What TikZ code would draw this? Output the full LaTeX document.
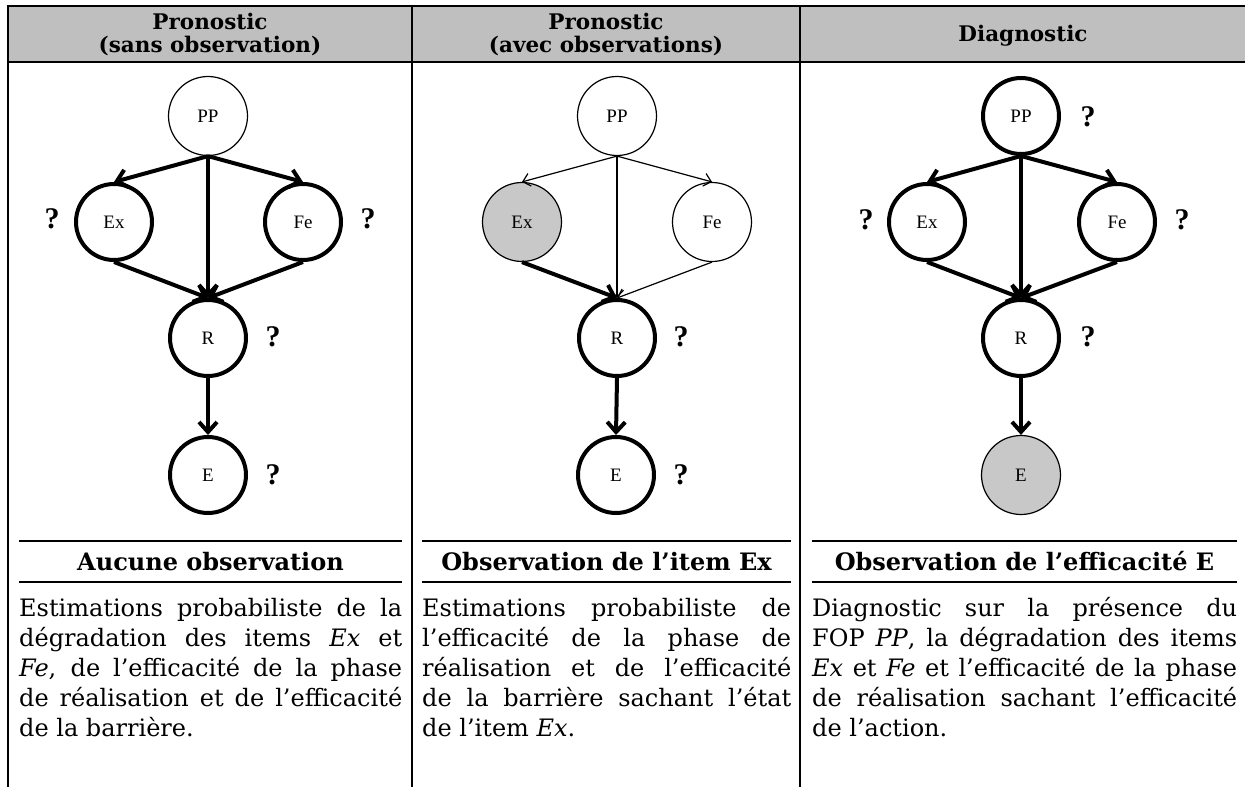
\documentclass[tikz,border=0pt]{standalone}
\usepackage{fontspec}
\setmainfont{DejaVu Serif}
\newfontfamily\timesfont{Liberation Serif}
\usetikzlibrary{arrows.meta}
\definecolor{hdrgray}{HTML}{BFBFBF}
\definecolor{obsgray}{HTML}{C8C8C8}
\tolerance=10000
\hyphenpenalty=10000
\begin{document}
\begin{tikzpicture}[x=1pt,y=-1pt,
  thinnode/.style={circle, draw, line width=1.2pt, minimum size=79pt, inner sep=0pt,
    font=\timesfont\fontsize{19}{19}\selectfont},
  thicknode/.style={thinnode, line width=4pt, minimum size=76pt},
  obsnode/.style={thinnode, fill=obsgray},
  thinarr/.style={line width=1.2pt, -{Straight Barb[length=7pt,width=13pt]}},
  thickarr/.style={line width=4pt, -{Straight Barb[length=10pt,width=18pt]}},
  qmark/.style={inner sep=0pt, font=\timesfont\bfseries\fontsize{30}{30}\selectfont},
  rule/.style={line width=2pt},
  hdr/.style={inner sep=0pt, anchor=base, font=\bfseries\fontsize{21.5}{24}\selectfont},
  cellhead/.style={inner sep=0pt, anchor=base, font=\bfseries\fontsize{24}{28}\selectfont},
  body/.style={inner sep=0pt, anchor=base west, align=justify,
    font=\fontsize{24}{30}\selectfont}
]
\useasboundingbox (0,0) rectangle (1245,787);
% table frame
\fill[hdrgray] (8,6) rectangle (1247,62);
\draw[rule] (1247,6) -- (8,6) -- (8,790);
\draw[rule] (8,62) -- (1247,62);
\draw[rule] (412,6) -- (412,790);
\draw[rule] (800,6) -- (800,790);
% header texts
\node[hdr] (h1a) at (210,29) {Pronostic};
\node[hdr] (h1b) at (210,52) {(sans observation)};
\node[hdr] (h2a) at (606,29) {Pronostic};
\node[hdr] (h2b) at (606,52) {(avec observations)};
\node[hdr] (h3) at (1023,41) {Diagnostic};
% lower rules
\draw[rule] (19,541) -- (402,541);
\draw[rule] (19,582) -- (402,582);
\draw[rule] (422,541) -- (791,541);
\draw[rule] (422,582) -- (791,582);
\draw[rule] (812,541) -- (1237,541);
\draw[rule] (812,582) -- (1237,582);
% cell headings
\node[cellhead] (c1) at (210.5,570) {Aucune observation};
\node[cellhead] (c2) at (606.5,570) {Observation de l’item Ex};
\node[cellhead] (c3) at (1024.5,570) {Observation de l’efficacité E};
% bodies
\node[body, text width=383pt] (t1) at (19,616) {Estimations probabiliste de la\linebreak
 dégradation des items \textit{Ex} et\linebreak
 \textit{Fe}, de l’efficacité de la phase\linebreak
 de réalisation et de l’efficacité\linebreak
 de la barrière.};
\node[body, text width=369pt] (t2) at (422,616) {Estimations probabiliste de\linebreak
 l’efficacité de la phase de\linebreak
 réalisation et de l’efficacité\linebreak
 de la barrière sachant l’état\linebreak
 de l’item \textit{Ex}.};
\node[body, text width=425pt] (t3) at (812,616) {Diagnostic sur la présence du\linebreak
 FOP \textit{PP}, la dégradation des items\linebreak
 \textit{Ex} et \textit{Fe} et l’efficacité de la phase\linebreak
 de réalisation sachant l’efficacité\linebreak
 de l’action.};
% ---------- column 1 ----------
\node[thinnode] (a-PP) at (208,116) {PP};
\node[thicknode] (a-Ex) at (114,222) {Ex};
\node[thicknode] (a-Fe) at (303,222) {Fe};
\node[thicknode] (a-R) at (208,338) {R};
\node[thicknode] (a-E) at (208,475) {E};
\draw[thickarr] (a-PP.south) -- (a-Ex.north);
\draw[thickarr] (a-PP.south) -- (a-Fe.north);
\draw[thickarr] (a-PP.south) -- (a-R.north);
\draw[thickarr] (a-Ex.south) -- (a-R.north);
\draw[thickarr] (a-Fe.south) -- (a-R.north);
\draw[thickarr] (a-R.south) -- (a-E.north);
\node[qmark] (a-qEx) at (52,219) {?};
\node[qmark] (a-qFe) at (368,219) {?};
\node[qmark] (a-qR) at (273,337) {?};
\node[qmark] (a-qE) at (273,475) {?};
% ---------- column 2 ----------
\begin{scope}[shift={(409,0)}]
\node[thinnode] (b-PP) at (208,116) {PP};
\node[obsnode] (b-Ex) at (113,222) {Ex};
\node[thinnode] (b-Fe) at (303,222) {Fe};
\node[thicknode] (b-R) at (208,338) {R};
\node[thicknode] (b-E) at (207,475) {E};
\draw[thinarr] (b-PP.south) -- (b-Ex.north);
\draw[thinarr] (b-PP.south) -- (b-Fe.north);
\draw[thinarr] (b-PP.south) -- (b-R.north);
\draw[thickarr] (b-Ex.south) -- (b-R.north);
\draw[thinarr] (b-Fe.south) -- (b-R.north);
\draw[thickarr] (b-R.south) -- (b-E.north);
\node[qmark] (b-qR) at (272,337) {?};
\node[qmark] (b-qE) at (272,475) {?};
\end{scope}
% ---------- column 3 ----------
\begin{scope}[shift={(813,0)}]
\node[thicknode] (c-PP) at (208,116) {PP};
\node[thicknode] (c-Ex) at (114,222) {Ex};
\node[thicknode] (c-Fe) at (304,222) {Fe};
\node[thicknode] (c-R) at (208,338) {R};
\node[obsnode] (c-E) at (208,475) {E};
\draw[thickarr] (c-PP.south) -- (c-Ex.north);
\draw[thickarr] (c-PP.south) -- (c-Fe.north);
\draw[thickarr] (c-PP.south) -- (c-R.north);
\draw[thickarr] (c-Ex.south) -- (c-R.north);
\draw[thickarr] (c-Fe.south) -- (c-R.north);
\draw[thickarr] (c-R.south) -- (c-E.north);
\node[qmark] (c-qPP) at (275,117) {?};
\node[qmark] (c-qEx) at (53,220) {?};
\node[qmark] (c-qFe) at (369,220) {?};
\node[qmark] (c-qR) at (275,337) {?};
\end{scope}
\end{tikzpicture}
\end{document}
